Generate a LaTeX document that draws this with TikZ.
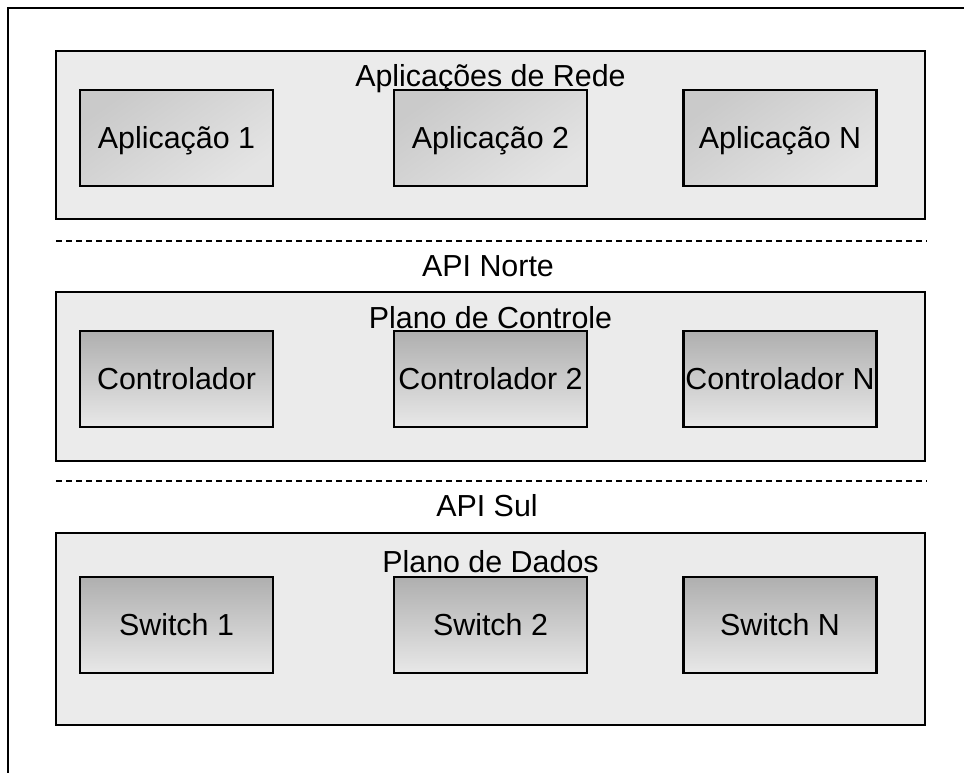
\documentclass[tikz,border=0pt]{standalone}
\usepackage{fontspec}
\setmainfont{Liberation Sans}
\definecolor{layerfill}{HTML}{EBEBEB}
\definecolor{appdark}{HTML}{CACACA}
\definecolor{applight}{HTML}{E4E4E4}
\definecolor{boxdark}{HTML}{AFAFAF}
\definecolor{boxlight}{HTML}{E8E8E8}
\begin{document}
\begin{tikzpicture}[x=1pt,y=-1pt,
  every node/.style={font=\fontsize{30.4}{36}\selectfont, text height=21.7pt, text depth=0pt},
  layerbox/.style={draw, line width=2.5pt, fill=layerfill, minimum width=869pt, inner sep=0pt},
  unitbox/.style={draw, line width=2.5pt, minimum width=193pt, minimum height=96pt, inner sep=0pt},
  appbox/.style={unitbox, top color=appdark, bottom color=applight, shading angle=35},
  ctlbox/.style={unitbox, top color=boxdark, bottom color=boxlight},
  layerlabel/.style={inner sep=0pt},
  apiline/.style={line width=2pt, dash pattern=on 6pt off 4pt}
]
\useasboundingbox (0,0) rectangle (964,772);

% outer frame (runs past the page on the right and bottom)
\coordinate (frameBL) at (8,790);
\coordinate (frameTL) at (8,8);
\coordinate (frameTR) at (990,8);
\draw[line width=2.5pt] (frameBL) -- (frameTL) -- (frameTR);

% layers
\node[layerbox, minimum height=168pt] (apps) at (490.5,135) {};
\node[layerbox, minimum height=169pt] (ctrl) at (490.5,376.5) {};
\node[layerbox, minimum height=192pt] (data) at (490.5,629) {};

\node[layerlabel] (appsT) at (490.5,76) {Aplicações de Rede};
\node[layerlabel] (ctrlT) at (490.5,318) {Plano de Controle};
\node[layerlabel] (dataT) at (490.5,562) {Plano de Dados};

% application row
\node[appbox] (app1) at (176.5,138) {Aplicação 1};
\node[appbox] (app2) at (490.5,138) {Aplicação 2};
\node[appbox] (appN) at (780,138) {Aplicação N};

% controller row
\node[ctlbox] (ctl1) at (176.5,379) {Controlador};
\node[ctlbox] (ctl2) at (490.5,379) {Controlador 2};
\node[ctlbox] (ctlN) at (780,379) {Controlador N};

% switch row
\node[ctlbox] (sw1) at (176.5,625) {Switch 1};
\node[ctlbox] (sw2) at (490.5,625) {Switch 2};
\node[ctlbox] (swN) at (780,625) {Switch N};

% interfaces between layers
\coordinate (nL) at (56,241);
\coordinate (nR) at (927,241);
\draw[apiline] (nL) -- (nR);
\node[layerlabel] (north) at (488,265.5) {API Norte};

\coordinate (sL) at (56,481);
\coordinate (sR) at (927,481);
\draw[apiline] (sL) -- (sR);
\node[layerlabel] (south) at (487,506) {API Sul};
\end{tikzpicture}
\end{document}
